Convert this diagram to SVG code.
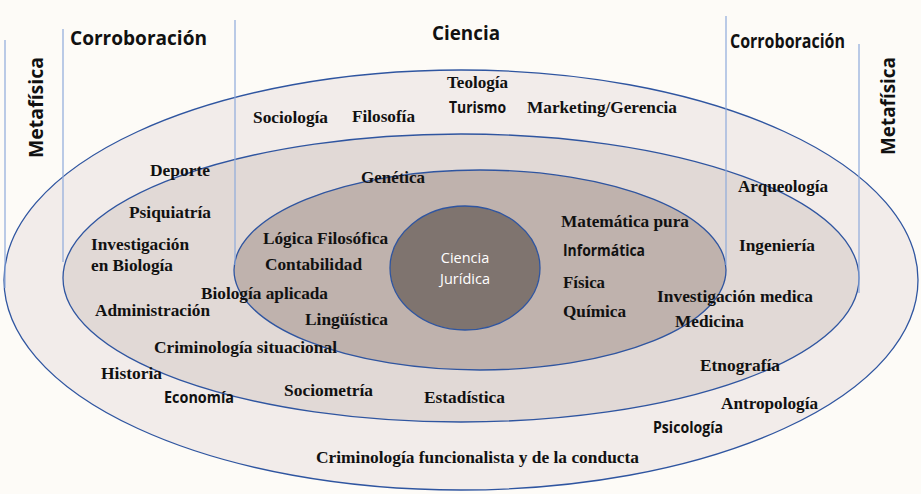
<svg xmlns="http://www.w3.org/2000/svg" width="921" height="494" viewBox="0 0 921 494">
<style>
.ring{stroke:#2f55a0;stroke-width:1.3}
.vl{stroke:#8eaadb;stroke-width:1.2;fill:none}
.t{font-family:"Liberation Serif","Times New Roman",serif;font-weight:bold;font-size:17px;fill:#111}
.s{font-family:"Open Sans","Liberation Sans",sans-serif;font-weight:bold;font-size:15.5px;fill:#111}
.h{font-family:"Open Sans","Liberation Sans",sans-serif;font-weight:bold;font-size:19px;fill:#111}
.w{font-family:"Open Sans","Liberation Sans",sans-serif;font-size:14.5px;fill:#fff;text-anchor:middle}
</style>
<rect x="0" y="0" width="921" height="494" fill="#fdfbf7"/>
<g id="ring-outer"><ellipse class="ring" cx="461" cy="280" rx="457" ry="210" fill="#f2ecea"/></g>
<g id="ring-second"><ellipse class="ring" cx="461" cy="278" rx="398" ry="144" fill="#e1d9d6"/></g>
<g id="ring-third"><ellipse class="ring" cx="480" cy="270" rx="246" ry="100" fill="#bfb2ad"/></g>
<g id="connectors">
<line class="vl" x1="5" y1="40" x2="5" y2="288"/>
<line class="vl" x1="63" y1="29" x2="63" y2="262"/>
<line class="vl" x1="235" y1="20" x2="235" y2="265"/>
<line class="vl" x1="726" y1="16" x2="726" y2="265"/>
<line class="vl" x1="859" y1="44" x2="859" y2="293"/>
</g>
<g id="ciencia-juridica">
<ellipse class="ring" cx="465" cy="268" rx="75" ry="62" fill="#7f746f"/>
<text class="w" x="465" y="263">Ciencia</text>
<text class="w" x="465" y="284">Jurídica</text>
</g>
<g id="headers">
<text class="h" x="70" y="45" textLength="137" lengthAdjust="spacingAndGlyphs">Corroboración</text>
<text class="h" x="432" y="40" textLength="68" lengthAdjust="spacingAndGlyphs">Ciencia</text>
<text class="h" x="730" y="48" font-size="16.5" textLength="115" lengthAdjust="spacingAndGlyphs">Corroboración</text>
<text class="h" transform="translate(43,158) rotate(-90)" textLength="101" lengthAdjust="spacingAndGlyphs">Metafísica</text>
<text class="h" transform="translate(895,155) rotate(-90)" textLength="98" lengthAdjust="spacingAndGlyphs">Metafísica</text>
</g>
<g id="labels-outer">
<text class="t" x="447" y="88" textLength="61" lengthAdjust="spacingAndGlyphs">Teología</text>
<text class="s" x="449" y="113" textLength="57" lengthAdjust="spacingAndGlyphs">Turismo</text>
<text class="t" x="253" y="123" textLength="75" lengthAdjust="spacingAndGlyphs">Sociología</text>
<text class="t" x="352" y="122" textLength="63" lengthAdjust="spacingAndGlyphs">Filosofía</text>
<text class="t" x="527" y="113" textLength="150" lengthAdjust="spacingAndGlyphs">Marketing/Gerencia</text>
<text class="t" x="101" y="379" textLength="61" lengthAdjust="spacingAndGlyphs">Historia</text>
<text class="s" x="164" y="403" textLength="70" lengthAdjust="spacingAndGlyphs">Economía</text>
<text class="t" x="316" y="463" textLength="323" lengthAdjust="spacingAndGlyphs">Criminología funcionalista y de la conducta</text>
<text class="t" x="721" y="409" textLength="97" lengthAdjust="spacingAndGlyphs">Antropología</text>
<text class="s" x="653" y="433" textLength="70" lengthAdjust="spacingAndGlyphs">Psicología</text>
</g>
<g id="labels-second">
<text class="t" x="150" y="176" textLength="60" lengthAdjust="spacingAndGlyphs">Deporte</text>
<text class="t" x="129" y="218" textLength="82" lengthAdjust="spacingAndGlyphs">Psiquiatría</text>
<text class="t" x="91" y="250" textLength="98" lengthAdjust="spacingAndGlyphs">Investigación</text>
<text class="t" x="91" y="271" textLength="82" lengthAdjust="spacingAndGlyphs">en Biología</text>
<text class="t" x="201" y="299" textLength="127" lengthAdjust="spacingAndGlyphs">Biología aplicada</text>
<text class="t" x="95" y="316" textLength="115" lengthAdjust="spacingAndGlyphs">Administración</text>
<text class="t" x="154" y="353" textLength="183" lengthAdjust="spacingAndGlyphs">Criminología situacional</text>
<text class="t" x="284" y="396" textLength="89" lengthAdjust="spacingAndGlyphs">Sociometría</text>
<text class="t" x="424" y="403" textLength="81" lengthAdjust="spacingAndGlyphs">Estadística</text>
<text class="t" x="738" y="192" textLength="90" lengthAdjust="spacingAndGlyphs">Arqueología</text>
<text class="t" x="739" y="251" textLength="76" lengthAdjust="spacingAndGlyphs">Ingeniería</text>
<text class="t" x="657" y="302" textLength="156" lengthAdjust="spacingAndGlyphs">Investigación medica</text>
<text class="t" x="675" y="327" textLength="69" lengthAdjust="spacingAndGlyphs">Medicina</text>
<text class="t" x="700" y="371" textLength="80" lengthAdjust="spacingAndGlyphs">Etnografía</text>
</g>
<g id="labels-third">
<text class="t" x="361" y="183" textLength="64" lengthAdjust="spacingAndGlyphs">Genética</text>
<text class="t" x="263" y="244" textLength="125" lengthAdjust="spacingAndGlyphs">Lógica Filosófica</text>
<text class="t" x="265" y="270" textLength="97" lengthAdjust="spacingAndGlyphs">Contabilidad</text>
<text class="t" x="305" y="325" textLength="83" lengthAdjust="spacingAndGlyphs">Lingüística</text>
<text class="t" x="561" y="227" textLength="128" lengthAdjust="spacingAndGlyphs">Matemática pura</text>
<text class="s" x="563" y="256" textLength="82" lengthAdjust="spacingAndGlyphs">Informática</text>
<text class="t" x="563" y="288" textLength="42" lengthAdjust="spacingAndGlyphs">Física</text>
<text class="t" x="563" y="317" textLength="63" lengthAdjust="spacingAndGlyphs">Química</text>
</g>
</svg>
